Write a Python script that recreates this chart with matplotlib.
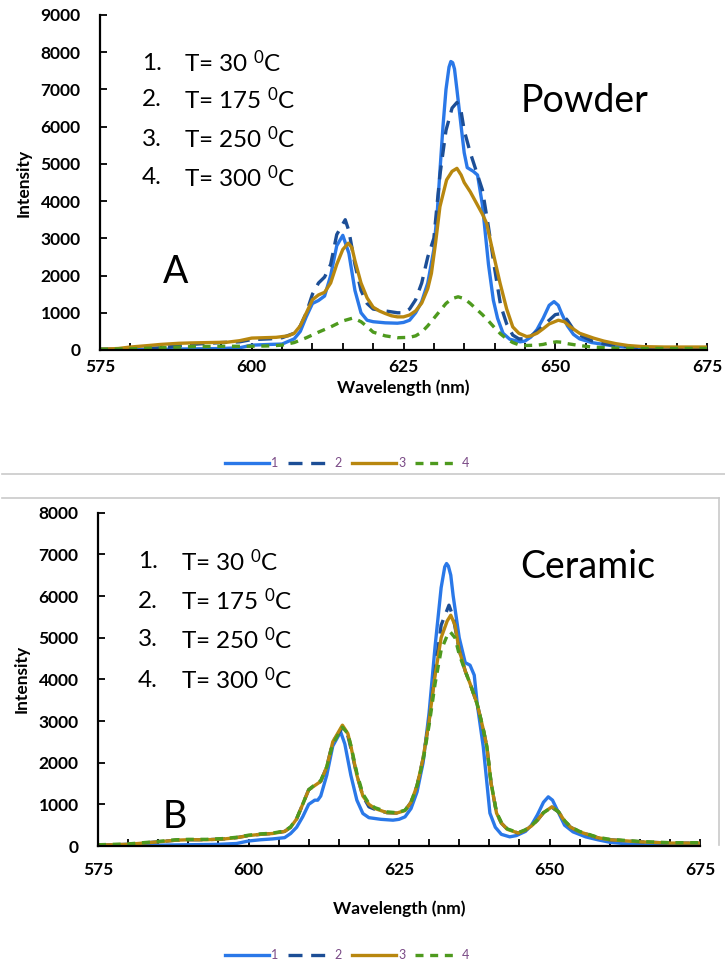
import numpy as np
import matplotlib
matplotlib.use("Agg")
import matplotlib.pyplot as plt
from matplotlib.lines import Line2D

plt.rcParams['font.family'] = ['Lato', 'DejaVu Sans']
plt.rcParams['mathtext.fontset'] = 'custom'
plt.rcParams['mathtext.rm'] = 'Lato'
plt.rcParams['mathtext.it'] = 'Lato:italic'
plt.rcParams['mathtext.bf'] = 'Lato:bold'

# ---------------- data ----------------
# Powder (panel A)
wl_p1 = [575, 580, 585, 590, 595, 598, 600, 603, 605, 607, 608, 609, 610, 611, 612, 613, 614, 615, 616, 617,
         618, 619, 620, 622, 624, 625, 626, 627, 628, 629, 630, 630.6, 631, 631.5, 632, 632.5, 632.8, 633.1,
         633.4, 633.8, 634.5, 635, 635.5, 636.5, 637.2, 638, 638.5, 639, 639.8, 640.5, 641.4, 642.5, 644.2,
         645, 646, 647, 648, 649, 649.8, 650.5, 651, 652, 653, 654, 656, 658, 660, 663, 667, 670, 675]
in_p1 = [20, 20, 20, 30, 40, 60, 130, 150, 160, 300, 500, 900, 1250, 1330, 1450, 2000, 2800, 3080, 2600, 1600,
         1000, 800, 760, 730, 720, 740, 800, 1000, 1300, 1800, 2700, 3800, 4800, 6000, 7000, 7600, 7750, 7720,
         7550, 7000, 6000, 5300, 4900, 4800, 4700, 3900, 3100, 2300, 1340, 850, 450, 290, 220,
         240, 350, 550, 850, 1200, 1300, 1200, 1000, 650, 420, 300, 200, 150, 100, 60, 40, 40, 40]

wl_p2 = [575, 580, 585, 590, 595, 598, 600, 603, 605, 607, 608, 609, 610, 611, 612, 613, 614, 615.4, 616, 617,
         618, 619, 620, 622, 624, 625, 626, 627, 628, 629, 630, 631, 632, 633, 633.8, 634.5, 635, 636, 637,
         638, 639, 640, 641, 642, 643, 644, 645, 646, 647, 648, 649, 650, 651, 652, 653, 654, 656, 658, 660,
         665, 670, 675]
in_p2 = [20, 20, 60, 150, 200, 220, 280, 300, 330, 450, 650, 1000, 1500, 1800, 1960, 2300, 3100, 3500, 3200, 2300,
         1600, 1250, 1100, 1050, 1000, 1000, 1100, 1350, 1800, 2500, 3000, 4700, 5900, 6500, 6650, 6400, 5900,
         5300, 4800, 4300, 3300, 2200, 1200, 700, 400, 300, 300, 380, 500, 650, 800, 950, 980, 800, 550, 400,
         250, 170, 120, 60, 50, 50]

wl_p3 = [575, 578, 580, 583, 585, 588, 590, 593, 596, 598, 600, 602, 604, 606, 607, 608, 609, 610, 611, 612,
         613, 614, 615, 615.9, 616.5, 617, 618, 619, 620, 621, 622, 623, 624, 625, 626, 627, 628, 629,
         629.6, 630.3, 631, 632.1, 633, 633.8, 634.5, 635, 636, 637, 638, 638.7, 639.5, 640.2, 640.9, 642,
         643, 644, 645.3, 646, 647, 648, 649, 650.5, 651.5, 652.5, 654, 656.3, 658, 660, 662, 664.5, 668,
         672, 675]
in_p3 = [20, 40, 80, 120, 150, 180, 190, 200, 210, 250, 320, 330, 340, 380, 450, 650, 1000, 1350, 1480, 1550,
         1800, 2300, 2700, 2870, 2750, 2400, 1800, 1400, 1150, 1050, 980, 920, 890, 890, 940, 1050, 1260, 1650,
         2060, 2900, 3850, 4570, 4800, 4880, 4700, 4500, 4250, 3950, 3650, 3400, 2800, 2300, 1800, 1100,
         620, 450, 360, 380, 450, 570, 700, 800, 760, 620, 450, 320, 240, 170, 120, 90, 80,
         80, 80]

wl_p4 = [575, 580, 585, 590, 595, 600, 603, 605, 607, 609, 611, 613, 615, 616.7, 618, 619, 620, 622, 624, 626,
         627, 628, 629, 630, 631, 632, 633, 634, 635, 636, 637, 638, 639, 640, 641, 642, 643, 644, 645, 647,
         648, 649, 650.2, 651, 652, 654, 656, 660, 665, 670, 675]
in_p4 = [20, 30, 60, 90, 100, 100, 110, 130, 200, 330, 480, 620, 780, 860, 760, 630, 480, 380, 330, 340,
         380, 480, 650, 850, 1050, 1250, 1380, 1430, 1380, 1250, 1100, 950, 780, 600, 430, 300, 200, 140, 120, 130,
         150, 190, 220, 210, 170, 120, 80, 50, 40, 40, 40]

# Ceramic (panel B)
wl_c1 = [575, 580, 585, 590, 595, 598, 600, 602, 604, 606, 607, 608, 609, 610, 611, 611.5, 612, 613, 614, 615.3,
         616, 617, 618, 619, 620, 622, 624, 625, 626, 627, 628, 629, 630, 631, 632, 632.6, 632.9, 633.2, 633.6,
         634, 635, 636, 636.8, 637.5, 638, 639, 640.1, 641, 642, 643.4, 644.5, 646, 647, 648, 649, 649.8, 650.5,
         651.5, 652.5, 653.9, 656, 658, 660, 663, 667, 675]
in_c1 = [10, 10, 20, 30, 40, 60, 120, 150, 170, 200, 300, 450, 700, 1000, 1100, 1100, 1200, 1700, 2400, 2740,
         2450, 1700, 1100, 780, 680, 640, 620, 640, 700, 900, 1300, 2000, 3200, 4800, 6200, 6700, 6780, 6720, 6500,
         6000, 5000, 4400, 4340, 4100, 3400, 2380, 790, 450, 280, 220, 250, 350, 500, 750, 1050, 1180, 1100,
         800, 500, 340, 220, 150, 90, 50, 30, 30]

wl_c2 = [575, 580, 585, 588, 590, 593, 596, 598, 600, 602, 604, 606, 607, 608, 609, 610, 611, 612, 613, 614,
         615.5, 616.5, 617, 618, 619, 620, 621, 622, 623, 624.6, 626, 627, 628, 629, 630, 631, 632, 633.3,
         634, 635, 636, 636.8, 638, 639, 639.6, 640.3, 641.2, 642, 643, 644.8, 646, 647, 648, 649, 650.4,
         651.5, 652.5, 653.5, 655, 658, 660, 665, 670, 675]
in_c2 = [20, 40, 100, 140, 150, 150, 170, 200, 250, 280, 300, 350, 450, 650, 1000, 1350, 1450, 1550, 1900, 2500,
         2820, 2650, 2350, 1700, 1200, 940, 880, 840, 800, 790, 850, 1050, 1450, 2100, 3000, 4200, 5300, 5780,
         5500, 4700, 4200, 3900, 3400, 2800, 2380, 1500, 790, 550, 400, 310, 380, 480, 620, 800, 930,
         820, 600, 450, 340, 200, 150, 100, 70, 70]

wl_c3 = [575, 580, 585, 588, 590, 593, 596, 598, 600, 602, 604, 606, 607, 608, 609, 610, 611, 612, 613, 614,
         615.6, 616.5, 617, 618, 619, 620, 621, 622, 623, 624.6, 626, 627, 628, 629, 630, 631, 632, 633,
         633.6, 634.3, 635, 636, 636.8, 638, 639, 639.6, 640.3, 641.2, 642, 643, 644.8, 646, 647, 648, 649,
         650.4, 651.5, 652.5, 653.5, 655, 658, 660, 665, 670, 675]
in_c3 = [20, 40, 100, 140, 150, 150, 170, 200, 250, 280, 300, 350, 450, 650, 1000, 1350, 1450, 1550, 1900, 2500,
         2900, 2700, 2400, 1700, 1200, 1000, 900, 850, 800, 790, 850, 1050, 1450, 2100, 3000, 4100, 5000, 5400,
         5540, 5300, 4700, 4200, 3900, 3400, 2800, 2380, 1500, 790, 550, 400, 310, 380, 480, 620, 800,
         940, 820, 600, 450, 340, 200, 150, 100, 70, 70]

wl_c4 = [575, 580, 585, 588, 590, 593, 596, 598, 600, 602, 604, 606, 607, 608, 609, 610, 611, 612, 613, 614,
         615.6, 616.5, 617, 618, 619, 620, 621, 622, 623, 624.6, 626, 627, 628, 629, 630, 631, 632, 633,
         633.5, 634.3, 635, 636, 636.8, 638, 639, 639.6, 640.3, 641.2, 642, 643, 644.8, 646, 647, 648, 649,
         650.4, 651.5, 652.5, 653.5, 655, 658, 660, 665, 670, 675]
in_c4 = [30, 50, 110, 150, 160, 160, 180, 210, 260, 290, 310, 360, 460, 660, 1000, 1350, 1470, 1570, 1900, 2450,
         2850, 2700, 2420, 1750, 1250, 1020, 920, 870, 820, 800, 860, 1050, 1450, 2050, 2900, 3900, 4700, 5050,
         5140, 5000, 4600, 4200, 3900, 3400, 2800, 2380, 1520, 810, 570, 410, 320, 390, 490, 630, 800,
         930, 820, 610, 460, 350, 210, 160, 110, 80, 80]

temps = ['30', '175', '250', '300']
labels = ['1', '2', '3', '4']
xticks = [575, 600, 625, 650, 675]

# ---------------- styles ----------------
c1, c2, c3, c4 = '#2A78E8', '#1C4E96', '#B8870F', '#4E9A1E'
styles = [dict(color=c1, lw=2.4, ls='-'),
          dict(color=c2, lw=2.4, ls=(0, (4.2, 2.6))),
          dict(color=c3, lw=2.4, ls='-'),
          dict(color=c4, lw=2.4, ls=(0, (2.4, 2.0)))]

fig = plt.figure(figsize=(7.25, 9.72), dpi=100)
W, H = 725.0, 972.0


def fx(px):
    return px / W


def fy(py):
    return 1 - py / H


def panel(ax, data, ymax, name, letter, tx, ty_list, name_xy, letter_xy, leg_y, xpad, xlabpad):
    for (x, y), st, lab in zip(data, styles, labels):
        ax.plot(x, y, label=lab, solid_capstyle='round', **st)
    ax.set_xlim(575, 675)
    ax.set_ylim(0, ymax)
    yt = list(range(0, ymax + 1, 1000))
    ax.set_xticks(xticks, labels=[str(v) for v in xticks], fontsize=12.5, fontweight='bold')
    ax.set_xticks(np.arange(575, 676, 5), minor=True)
    ax.set_yticks(yt, labels=[str(v) for v in yt], fontsize=12.5, fontweight='bold')
    for s in ['top', 'right']:
        ax.spines[s].set_visible(False)
    for s in ['left', 'bottom']:
        ax.spines[s].set_linewidth(1.6)
    ax.tick_params(which='both', direction='in', length=5, width=1.3)
    ax.tick_params(axis='x', pad=xpad)
    ax.tick_params(axis='y', pad=14)
    ax.set_xlabel('Wavelength (nm)', fontsize=12.5, fontweight='bold', labelpad=xlabpad)
    ax.set_ylabel('Intensity', fontsize=12.5, fontweight='bold', labelpad=6)
    for i, (t, py) in enumerate(zip(temps, ty_list)):
        fig.text(fx(tx[0]), fy(py), f'{i + 1}.', fontsize=17.5, va='center')
        fig.text(fx(tx[1]), fy(py), f'T= {t} $^{{0}}$C', fontsize=17.5, va='center')
    fig.text(fx(name_xy[0]), fy(name_xy[1]), name, fontsize=27, va='center')
    fig.text(fx(letter_xy[0]), fy(letter_xy[1]), letter, fontsize=27, va='center')
    handles = [Line2D([], [], **st) for st in styles]
    leg = fig.legend(handles, labels, loc='center', bbox_to_anchor=(fx(347), fy(leg_y)), ncol=4,
                     frameon=False, fontsize=9, handlelength=3.5, handletextpad=0.2, columnspacing=0.8)
    for t in leg.get_texts():
        t.set_color('#7A4A86')


# top panel (Powder)
ax1 = fig.add_axes([fx(100), fy(350), fx(707) - fx(100), fy(15) - fy(350)])
panel(ax1, [(wl_p1, in_p1), (wl_p2, in_p2), (wl_p3, in_p3), (wl_p4, in_p4)], 9000,
      'Powder', 'A', (142, 184), [63, 100, 139, 178], (521, 101), (163, 272), 463, 6.5, 3)

# bottom panel (Ceramic)
ax2 = fig.add_axes([fx(98), fy(846), fx(700) - fx(98), fy(512.7) - fy(846)])
panel(ax2, [(wl_c1, in_c1), (wl_c2, in_c2), (wl_c3, in_c3), (wl_c4, in_c4)], 8000,
      'Ceramic', 'B', (138, 181), [562, 601, 640, 680], (520, 567), (163, 817), 955, 11.5, 16)

# separator and frame lines
gray = '#C9C9C9'
fig.add_artist(Line2D([fx(2), fx(725)], [fy(474), fy(474)], color=gray, lw=1.2))
fig.add_artist(Line2D([fx(2), fx(719)], [fy(498), fy(498)], color=gray, lw=1.2))
fig.add_artist(Line2D([fx(719), fx(719)], [fy(498), fy(845)], color=gray, lw=1.2))

fig.savefig('out.png', dpi=100)
